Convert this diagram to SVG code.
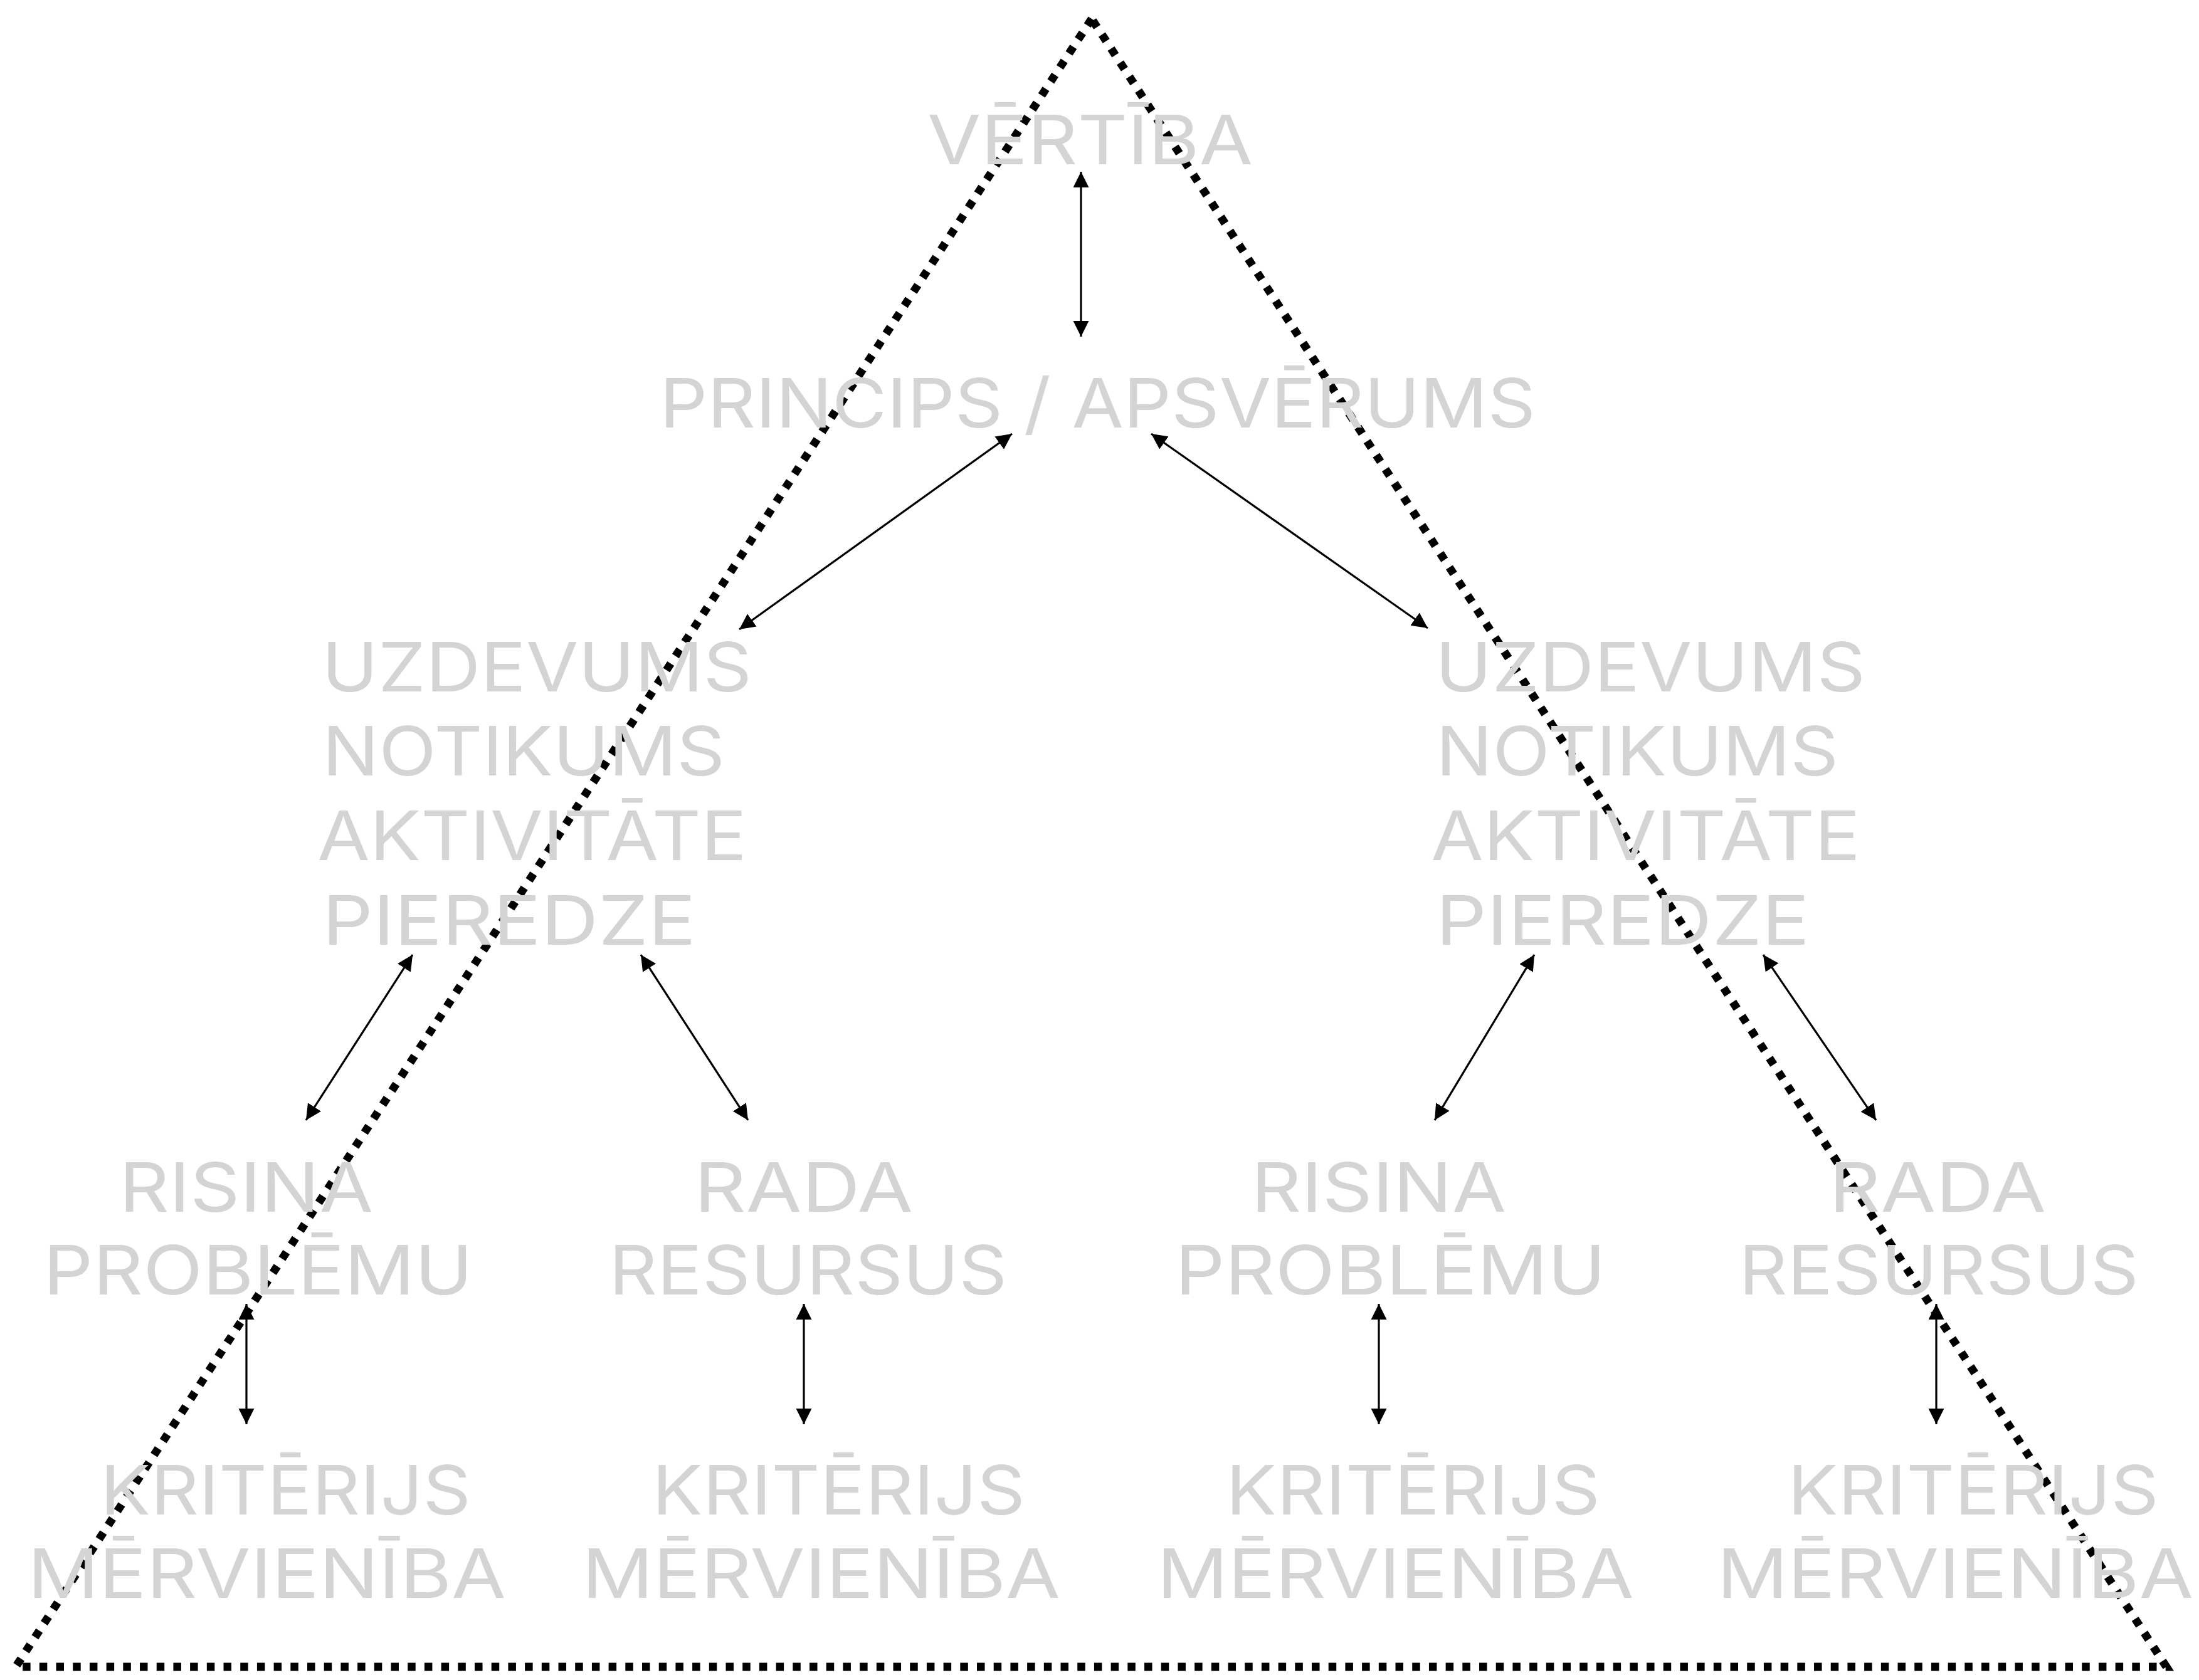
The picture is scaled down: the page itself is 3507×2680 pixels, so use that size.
<svg xmlns="http://www.w3.org/2000/svg" width="3507" height="2680" viewBox="0 0 3507 2680">
<style>
.t{font-family:Inter,"Open Sans","DejaVu Sans",sans-serif;font-size:109px;fill:#d4d4d4;}
.c{stroke:#000;stroke-width:3.2;fill:none;marker-start:url(#ah);marker-end:url(#ah);}
.tri{fill:none;stroke:#000;stroke-width:13;stroke-dasharray:12.5 14.2;stroke-linejoin:miter;}
</style>
<defs>
<marker id="ah" markerUnits="userSpaceOnUse" markerWidth="26" markerHeight="26" viewBox="0 0 26 26" refX="25" refY="12.5" orient="auto-start-reverse">
<path d="M0,0 L25,12.5 L0,25 z" fill="#000"/>
</marker>
</defs>
<rect width="3507" height="2680" fill="#fff"/>
<g id="triangle">
<polygon class="tri" points="1741,30 25,2659 3455,2659"/>
</g>
<g id="n-vertiba"><text class="t" x="1479" y="262" textLength="519" lengthAdjust="spacingAndGlyphs">VĒRTĪBA</text></g>
<g id="n-princips"><text class="t" x="1052" y="682" textLength="1397" lengthAdjust="spacingAndGlyphs">PRINCIPS / APSVĒRUMS</text></g>
<g id="n-uzdevums-l">
<text class="t" x="513" y="1103" textLength="686" lengthAdjust="spacingAndGlyphs">UZDEVUMS</text>
<text class="t" x="514" y="1237" textLength="642" lengthAdjust="spacingAndGlyphs">NOTIKUMS</text>
<text class="t" x="506" y="1372" textLength="685" lengthAdjust="spacingAndGlyphs">AKTIVITĀTE</text>
<text class="t" x="514" y="1507" textLength="596" lengthAdjust="spacingAndGlyphs">PIEREDZE</text>
</g>
<g id="n-uzdevums-r">
<text class="t" x="2289" y="1103" textLength="686" lengthAdjust="spacingAndGlyphs">UZDEVUMS</text>
<text class="t" x="2290" y="1237" textLength="642" lengthAdjust="spacingAndGlyphs">NOTIKUMS</text>
<text class="t" x="2282" y="1372" textLength="685" lengthAdjust="spacingAndGlyphs">AKTIVITĀTE</text>
<text class="t" x="2290" y="1507" textLength="596" lengthAdjust="spacingAndGlyphs">PIEREDZE</text>
</g>
<g id="n-risina-l">
<text class="t" x="190" y="1933" textLength="405" lengthAdjust="spacingAndGlyphs">RISINA</text>
<text class="t" x="69" y="2065" textLength="685" lengthAdjust="spacingAndGlyphs">PROBLĒMU</text>
</g>
<g id="n-rada-l">
<text class="t" x="1107" y="1933" textLength="349" lengthAdjust="spacingAndGlyphs">RADA</text>
<text class="t" x="971" y="2065" textLength="635" lengthAdjust="spacingAndGlyphs">RESURSUS</text>
</g>
<g id="n-risina-r">
<text class="t" x="1995" y="1933" textLength="407" lengthAdjust="spacingAndGlyphs">RISINA</text>
<text class="t" x="1874" y="2065" textLength="687" lengthAdjust="spacingAndGlyphs">PROBLĒMU</text>
</g>
<g id="n-rada-r">
<text class="t" x="2917" y="1933" textLength="346" lengthAdjust="spacingAndGlyphs">RADA</text>
<text class="t" x="2773" y="2065" textLength="638" lengthAdjust="spacingAndGlyphs">RESURSUS</text>
</g>
<g id="n-kriterijs-1">
<text class="t" x="160" y="2416" textLength="591" lengthAdjust="spacingAndGlyphs">KRITĒRIJS</text>
<text class="t" x="44" y="2549" textLength="763" lengthAdjust="spacingAndGlyphs">MĒRVIENĪBA</text>
</g>
<g id="n-kriterijs-2">
<text class="t" x="1040" y="2416" textLength="595" lengthAdjust="spacingAndGlyphs">KRITĒRIJS</text>
<text class="t" x="928" y="2549" textLength="763" lengthAdjust="spacingAndGlyphs">MĒRVIENĪBA</text>
</g>
<g id="n-kriterijs-3">
<text class="t" x="1955" y="2416" textLength="597" lengthAdjust="spacingAndGlyphs">KRITĒRIJS</text>
<text class="t" x="1845" y="2549" textLength="761" lengthAdjust="spacingAndGlyphs">MĒRVIENĪBA</text>
</g>
<g id="n-kriterijs-4">
<text class="t" x="2851" y="2416" textLength="592" lengthAdjust="spacingAndGlyphs">KRITĒRIJS</text>
<text class="t" x="2738" y="2549" textLength="760" lengthAdjust="spacingAndGlyphs">MĒRVIENĪBA</text>
</g>
<g id="connectors">
<line class="c" x1="1724" y1="274" x2="1724" y2="537"/>
<line class="c" x1="1614" y1="692" x2="1179" y2="1004"/>
<line class="c" x1="1836" y1="692" x2="2277" y2="1002"/>
<line class="c" x1="658" y1="1523" x2="488" y2="1787"/>
<line class="c" x1="1022" y1="1523" x2="1193" y2="1787"/>
<line class="c" x1="2447" y1="1523" x2="2288" y2="1787"/>
<line class="c" x1="2812" y1="1523" x2="2992" y2="1787"/>
<line class="c" x1="393" y1="2080" x2="393" y2="2272"/>
<line class="c" x1="1282" y1="2080" x2="1282" y2="2272"/>
<line class="c" x1="2199" y1="2080" x2="2199" y2="2272"/>
<line class="c" x1="3088" y1="2080" x2="3088" y2="2272"/>
</g>
</svg>
